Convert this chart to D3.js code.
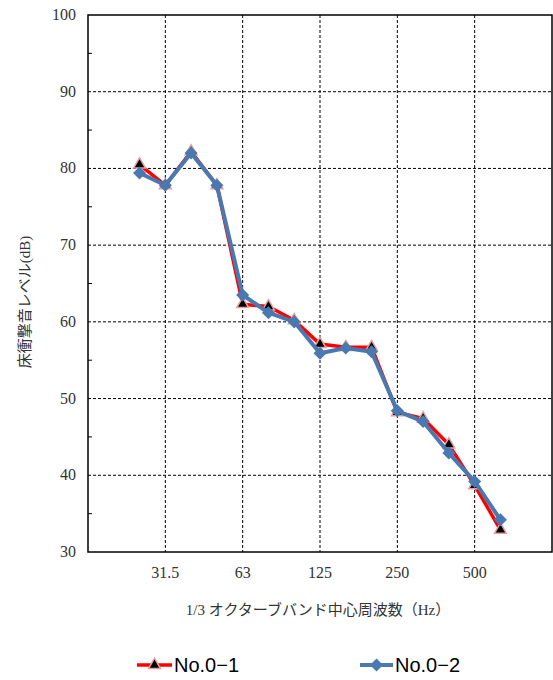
<!DOCTYPE html>
<html>
<head>
<meta charset="utf-8" />
<title>床衝撃音レベル</title>
<style>
  body { margin: 0; background: #fff; }
  .tick-label { font-family: "Liberation Serif", "DejaVu Serif", serif; font-size: 16px; fill: #333; }
  .grid line { stroke: #000; stroke-width: 1; stroke-dasharray: 3,2; }
  .title { font-family: "Liberation Serif", "Noto Sans CJK JP", serif; font-size: 15px; fill: #333; }
  .legend { font-family: "Liberation Sans", Arial, sans-serif; font-size: 20px; fill: #000; }
</style>
</head>
<body>
<script src="https://cdn.jsdelivr.net/npm/d3@7"></script>
<div id="graphic"></div>
<script>
// 1/3 octave band centre frequencies
var freqs = ["25", "31.5", "40", "50", "63", "80", "100", "125", "160", "200", "250", "315", "400", "500", "630"];
var labeledFreqs = ["31.5", "63", "125", "250", "500"];
var yTicks = [30, 40, 50, 60, 70, 80, 90, 100];
var yMinor = [35, 45, 55, 65, 75, 85, 95];

var no01 = [80.5, 77.8, 82.2, 77.8, 62.3, 62.0, 60.2, 57.1, 56.7, 56.7, 48.2, 47.4, 44.0, 38.7, 32.9];
var no02 = [79.4, 77.8, 82.0, 77.8, 63.5, 61.2, 60.0, 55.9, 56.6, 56.1, 48.4, 47.0, 42.9, 39.2, 34.2];

var width = 553, height = 680;
var pLeft = 88, pTop = 15, pRight = 552, pBottom = 552;

var svg = d3.select("#graphic").append("svg")
    .attr("width", width)
    .attr("height", height);

var x = d3.scalePoint()
    .domain(freqs)
    .range([pLeft, pRight])
    .padding(2);

var y = d3.scaleLinear()
    .domain([30, 100])
    .range([pBottom, pTop]);

// grid
var grid = svg.append("g").attr("class", "grid");
grid.selectAll(".h").data(yTicks.slice(1, -1)).enter().append("line")
    .attr("x1", pLeft).attr("x2", pRight)
    .attr("y1", function (d) { return y(d); })
    .attr("y2", function (d) { return y(d); });
grid.selectAll(".v").data(labeledFreqs).enter().append("line")
    .attr("x1", function (d) { return x(d); })
    .attr("x2", function (d) { return x(d); })
    .attr("y1", pTop).attr("y2", pBottom);

// frame
svg.append("rect")
    .attr("x", pLeft).attr("y", pTop)
    .attr("width", pRight - pLeft).attr("height", pBottom - pTop)
    .attr("fill", "none").attr("stroke", "#000").attr("stroke-width", 1.5);

// minor ticks on y axis
svg.selectAll(".minor").data(yMinor).enter().append("line")
    .attr("x1", pLeft).attr("x2", pLeft + 4)
    .attr("y1", function (d) { return y(d); })
    .attr("y2", function (d) { return y(d); })
    .attr("stroke", "#000");

// y tick labels
svg.selectAll(".ylab").data(yTicks).enter().append("text")
    .attr("class", "tick-label")
    .attr("x", pLeft - 12)
    .attr("y", function (d) { return y(d) + 5; })
    .attr("text-anchor", "end")
    .text(function (d) { return d; });

// x tick labels
svg.selectAll(".xlab").data(labeledFreqs).enter().append("text")
    .attr("class", "tick-label")
    .attr("x", function (d) { return x(d); })
    .attr("y", pBottom + 26)
    .attr("text-anchor", "middle")
    .text(function (d) { return d; });

// axis titles
svg.append("text")
    .attr("class", "title")
    .attr("x", 318).attr("y", 615)
    .attr("text-anchor", "middle")
    .text("1/3 オクターブバンド中心周波数（Hz）");

svg.append("text")
    .attr("class", "title")
    .attr("transform", "translate(30,302) rotate(-90)")
    .attr("text-anchor", "middle")
    .text("床衝撃音レベル(dB)");

var line = d3.line()
    .x(function (d, i) { return x(freqs[i]); })
    .y(function (d) { return y(d); });

var tri = d3.symbol().type(d3.symbolTriangle).size(60);
var dia = d3.symbol().type(d3.symbolSquare).size(85);

// series No.0-1
svg.append("path").datum(no01)
    .attr("d", line)
    .attr("fill", "none").attr("stroke", "#ff0000").attr("stroke-width", 3.5)
    .attr("stroke-linejoin", "round");
svg.selectAll(".m1").data(no01).enter().append("path")
    .attr("d", tri)
    .attr("transform", function (d, i) { return "translate(" + x(freqs[i]) + "," + y(d) + ")"; })
    .attr("fill", "#000").attr("stroke", "#e4a0a0").attr("stroke-width", 1.5);

// series No.0-2
svg.append("path").datum(no02)
    .attr("d", line)
    .attr("fill", "none").attr("stroke", "#4a78b0").attr("stroke-width", 4)
    .attr("stroke-linejoin", "round");
svg.selectAll(".m2").data(no02).enter().append("path")
    .attr("d", dia)
    .attr("transform", function (d, i) { return "translate(" + x(freqs[i]) + "," + y(d) + ") rotate(45)"; })
    .attr("fill", "#4a78b0");

// legend
var ly = 665;
svg.append("line").attr("x1", 137).attr("x2", 172).attr("y1", ly).attr("y2", ly)
    .attr("stroke", "#ff0000").attr("stroke-width", 3.5);
svg.append("path").attr("d", tri)
    .attr("transform", "translate(154.5," + ly + ")")
    .attr("fill", "#000").attr("stroke", "#e4a0a0").attr("stroke-width", 1.5);
svg.append("text").attr("class", "legend")
    .attr("x", 174).attr("y", ly + 7).text("No.0−1");

svg.append("line").attr("x1", 360).attr("x2", 393).attr("y1", ly).attr("y2", ly)
    .attr("stroke", "#4a78b0").attr("stroke-width", 4);
svg.append("path").attr("d", dia)
    .attr("transform", "translate(376.5," + ly + ") rotate(45)")
    .attr("fill", "#4a78b0");
svg.append("text").attr("class", "legend")
    .attr("x", 395).attr("y", ly + 7).text("No.0−2");
</script>
</body>
</html>
